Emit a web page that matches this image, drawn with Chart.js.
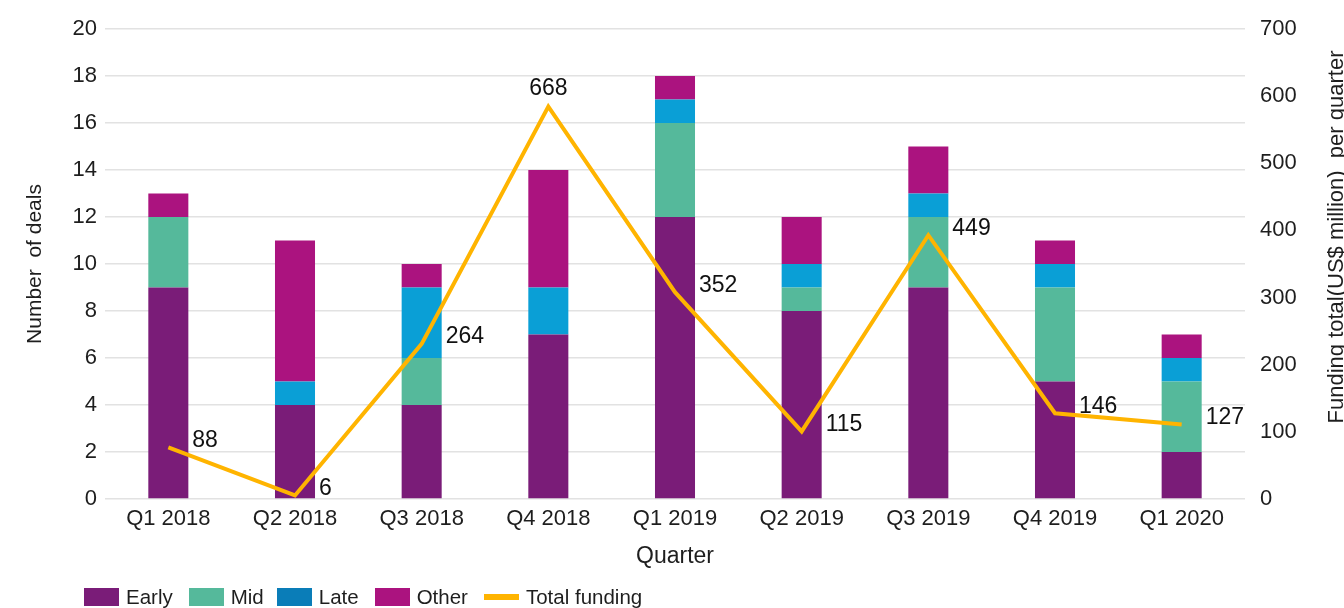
<!DOCTYPE html>
<html>
<head>
<meta charset="utf-8">
<script src="https://cdn.jsdelivr.net/npm/chart.js@4.4.1/dist/chart.umd.min.js"></script>
<style>
  html, body { margin: 0; padding: 0; background: #fff; }
  #wrap { position: relative; width: 1344px; height: 608px; }
  #legend { position: absolute; left: 84px; top: 585px; display: flex; align-items: center;
            font-family: "Liberation Sans", Arial, sans-serif; font-size: 20.5px; color: #1e1e1e; }
  .item { display: flex; align-items: center; }
  .box { width: 35px; height: 18px; margin-right: 7px; }
  .ln { width: 35px; height: 6px; margin-right: 7px; }
</style>
</head>
<body>
<div id="wrap">
  <canvas id="c" width="1344" height="608"></canvas>
  <div id="legend"></div>
</div>
<script>
const categories = ['Q1 2018', 'Q2 2018', 'Q3 2018', 'Q4 2018', 'Q1 2019', 'Q2 2019', 'Q3 2019', 'Q4 2019', 'Q1 2020'];
const early = [9, 4, 4, 7, 12, 8, 9, 5, 2];
const mid   = [3, 0, 2, 0, 4, 1, 3, 4, 3];
const late  = [0, 1, 3, 2, 1, 1, 1, 1, 1];
const other = [1, 6, 1, 5, 1, 2, 2, 1, 1];
const totalFunding = [88, 6, 264, 668, 352, 115, 449, 146, 127];
const labelAbove = [false, false, false, true, false, false, false, false, false];

const FONT = '"Liberation Sans", Arial, sans-serif';
const colors = { early: '#7a1c78', mid: '#55b99b', late: '#0a9fd6', lateLegend: '#0a7db8', other: '#ab137f', line: '#ffb400' };

const lineLabels = {
  id: 'lineLabels',
  afterDatasetsDraw(chart) {
    const meta = chart.getDatasetMeta(4);
    const ctx = chart.ctx;
    ctx.save();
    ctx.font = '23px ' + FONT;
    ctx.fillStyle = '#111';
    meta.data.forEach((pt, i) => {
      const txt = String(totalFunding[i]);
      if (labelAbove[i]) {
        ctx.textAlign = 'center'; ctx.textBaseline = 'middle';
        ctx.fillText(txt, pt.x, pt.y - 18);
      } else {
        ctx.textAlign = 'left'; ctx.textBaseline = 'middle';
        ctx.fillText(txt, pt.x + 24, pt.y - 7);
      }
    });
    ctx.restore();
  }
};

const rightTitle = {
  id: 'rightTitle',
  afterDraw(chart) {
    const ctx = chart.ctx;
    ctx.save();
    ctx.font = '22px ' + FONT;
    ctx.fillStyle = '#1e1e1e';
    ctx.translate(1337, 237);
    ctx.rotate(-Math.PI / 2);
    ctx.textAlign = 'center'; ctx.textBaseline = 'middle';
    ctx.fillText('Funding total(US$ million)  per quarter', 0, 0);
    ctx.restore();
  }
};

new Chart(document.getElementById('c'), {
  type: 'bar',
  data: {
    labels: categories,
    datasets: [
      { label: 'Early', data: early, backgroundColor: colors.early, yAxisID: 'y', stack: 'deals', order: 2 },
      { label: 'Mid', data: mid, backgroundColor: colors.mid, yAxisID: 'y', stack: 'deals', order: 2 },
      { label: 'Late', data: late, backgroundColor: colors.late, yAxisID: 'y', stack: 'deals', order: 2 },
      { label: 'Other', data: other, backgroundColor: colors.other, yAxisID: 'y', stack: 'deals', order: 2 },
      { label: 'Total funding', type: 'line', data: totalFunding, borderColor: colors.line, backgroundColor: colors.line,
        borderWidth: 4, pointRadius: 0, tension: 0, yAxisID: 'yLine', stack: 'funding', order: 1, borderJoinStyle: 'miter' }
    ]
  },
  options: {
    responsive: false,
    animation: false,
    events: [],
    layout: { padding: { top: 29, bottom: 38, left: 0, right: 0 } },
    datasets: { bar: { categoryPercentage: 1, barPercentage: 0.316 } },
    plugins: { legend: { display: false }, tooltip: { enabled: false } },
    scales: {
      x: {
        stacked: true,
        grid: { display: false, drawTicks: false },
        border: { display: false },
        ticks: { font: { family: FONT, size: 22 }, color: '#1e1e1e', padding: 7, maxRotation: 0 },
        title: { display: true, text: 'Quarter', font: { family: FONT, size: 23 }, color: '#1e1e1e', padding: { top: 0, bottom: 0 } },
        afterFit(s) { s.height = 71; }
      },
      y: {
        stacked: true, position: 'left', min: 0, max: 20,
        ticks: { stepSize: 2, font: { family: FONT, size: 22 }, color: '#1e1e1e', padding: 8 },
        grid: { color: '#e2e2e2', lineWidth: 1.5, drawTicks: false },
        border: { display: false },
        title: { display: true, text: 'Number  of deals', font: { family: FONT, size: 21 }, color: '#1e1e1e', padding: { top: 23, bottom: 0 } },
        afterFit(s) { s.width = 105; }
      },
      y1: {
        position: 'right', min: 0, max: 700,
        ticks: { stepSize: 100, font: { family: FONT, size: 22 }, color: '#1e1e1e', padding: 15 },
        grid: { display: false, drawTicks: false },
        border: { display: false },
        afterFit(s) { s.width = 99; }
      },
      yLine: {
        display: false, position: 'right', min: 0, max: 800, stacked: false
      }
    }
  },
  plugins: [lineLabels, rightTitle]
});

const legendItems = [
  { label: 'Early', color: colors.early, kind: 'box', gap: 16 },
  { label: 'Mid', color: colors.mid, kind: 'box', gap: 13 },
  { label: 'Late', color: colors.lateLegend, kind: 'box', gap: 16 },
  { label: 'Other', color: colors.other, kind: 'box', gap: 16 },
  { label: 'Total funding', color: colors.line, kind: 'ln', gap: 0 }
];
const lg = document.getElementById('legend');
legendItems.forEach(it => {
  const d = document.createElement('div');
  d.className = 'item';
  d.style.marginRight = it.gap + 'px';
  const m = document.createElement('span');
  m.className = it.kind;
  m.style.background = it.color;
  const t = document.createElement('span');
  t.textContent = it.label;
  d.appendChild(m); d.appendChild(t);
  lg.appendChild(d);
});
</script>
</body>
</html>
